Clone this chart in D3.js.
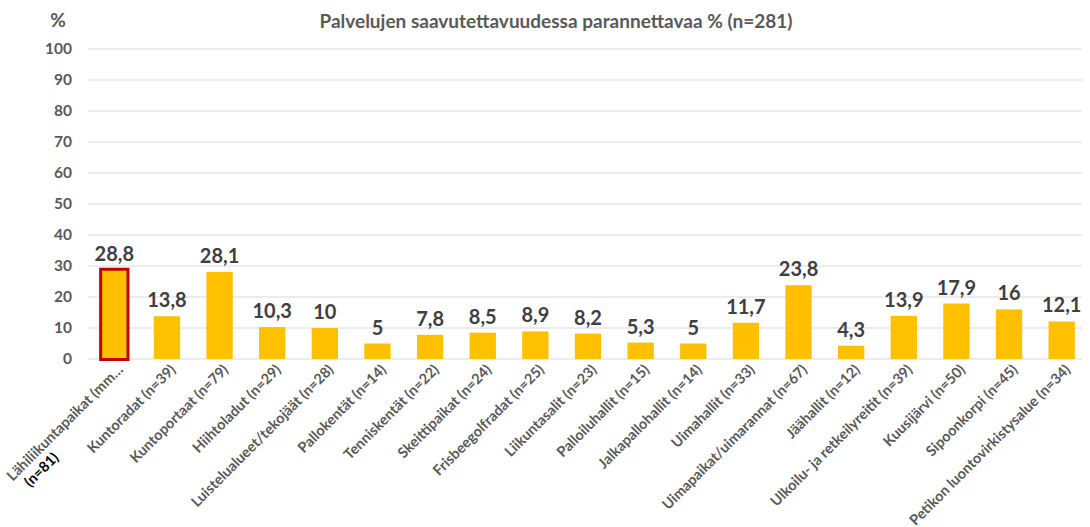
<!DOCTYPE html>
<html lang="en">
<head>
<meta charset="utf-8">
<title>Palvelujen saavutettavuudessa parannettavaa</title>
<script src="https://d3js.org/d3.v7.min.js"></script>
<style>
  body { margin: 0; background: #fff; }
  text { font-family: Lato, "Noto Sans", sans-serif; }
</style>
</head>
<body>
<script>
// data
var categories = ["Lähiliikuntapaikat (mm…", "Kuntoradat (n=39)", "Kuntoportaat (n=79)", "Hiihtoladut (n=29)",
  "Luistelualueet/tekojäät (n=28)", "Pallokentät (n=14)", "Tenniskentät (n=22)", "Skeittipaikat (n=24)",
  "Frisbeegolfradat (n=25)", "Liikuntasalit (n=23)", "Palloiluhallit (n=15)", "Jalkapallohallit (n=14)",
  "Uimahallit (n=33)", "Uimapaikat/uimarannat (n=67)", "Jäähallit (n=12)", "Ulkoilu- ja retkeilyreitit (n=39)",
  "Kuusijärvi (n=50)", "Sipoonkorpi (n=45)", "Petikon luontovirkistysalue (n=34)"];
var values = [28.8, 13.8, 28.1, 10.3, 10, 5, 7.8, 8.5, 8.9, 8.2, 5.3, 5, 11.7, 23.8, 4.3, 13.9, 17.9, 16, 12.1];
var yTicks = [0, 10, 20, 30, 40, 50, 60, 70, 80, 90, 100];
var highlight = "Lähiliikuntapaikat (mm…";
var extraLine = "(n=81)";

var width = 1090, height = 527;
var svg = d3.select("body").append("svg")
  .attr("width", width).attr("height", height);

var x = d3.scaleBand().domain(categories).range([88, 1088]).paddingInner(0.5).paddingOuter(0.25);
var y = d3.scaleLinear().domain([0, 100]).range([359, 49]);

// gridlines
svg.append("g").selectAll("line")
  .data(yTicks).enter().append("line")
  .attr("x1", 88).attr("x2", 1082)
  .attr("y1", function(d) { return y(d); })
  .attr("y2", function(d) { return y(d); })
  .attr("stroke", "#d9d9d9").attr("stroke-width", 1);

// y axis labels
var yAxis = svg.append("g").attr("transform", "translate(76,0)")
  .call(d3.axisLeft(y).tickValues(yTicks).tickSize(0).tickPadding(4));
yAxis.select(".domain").remove();
yAxis.selectAll("text")
  .attr("fill", "#595959").attr("font-size", "15.5px").attr("font-weight", "bold")
  .style("font-family", "Lato, sans-serif");

svg.append("text").attr("x", 58).attr("y", 27).attr("text-anchor", "middle")
  .attr("fill", "#595959").attr("font-size", "19px").attr("font-weight", "bold").text("%");

// title
svg.append("text").attr("x", 556).attr("y", 28).attr("text-anchor", "middle")
  .attr("fill", "#595959").attr("font-size", "19px").attr("font-weight", "bold")
  .text("Palvelujen saavutettavuudessa parannettavaa % (n=281)");

// bars
svg.append("g").selectAll("rect")
  .data(values).enter().append("rect")
  .attr("x", function(d, i) { return x(categories[i]); })
  .attr("y", function(d) { return y(d); })
  .attr("width", x.bandwidth())
  .attr("height", function(d) { return y(0) - y(d); })
  .attr("fill", "#ffc000");

// highlighted outline
var hi = categories.indexOf(highlight);
svg.append("rect")
  .attr("x", x(highlight) - 0.5)
  .attr("y", y(values[hi]) - 0.5)
  .attr("width", x.bandwidth() + 1)
  .attr("height", y(0) - y(values[hi]) + 1)
  .attr("fill", "none").attr("stroke", "#c00000").attr("stroke-width", 3);

// value labels
svg.append("g").selectAll("text")
  .data(values).enter().append("text")
  .attr("x", function(d, i) { return x(categories[i]) + x.bandwidth() / 2; })
  .attr("y", function(d) { return y(d) - 9; })
  .attr("text-anchor", "middle")
  .attr("fill", "#404040").attr("font-size", "20px").attr("font-weight", "bold")
  .text(function(d) { return String(d).replace(".", ","); });

// category labels
var labels = svg.append("g").selectAll("g")
  .data(categories).enter().append("g")
  .attr("transform", function(d) {
    return "translate(" + (x(d) + x.bandwidth() / 2 + 6) + ",367) rotate(-45)";
  });
labels.append("text")
  .attr("text-anchor", "end").attr("dy", "0.35em")
  .attr("fill", "#595959").attr("font-size", "14.5px").attr("font-weight", "bold")
  .text(function(d) { return d; });

labels.filter(function(d) { return d === highlight; }).each(function() {
  var g = d3.select(this);
  var len = g.select("text").node().getComputedTextLength();
  g.append("text")
    .attr("x", -len + 8).attr("dy", "1.5em")
    .attr("fill", "#000").attr("font-size", "14.5px").attr("font-weight", "bold")
    .text(extraLine);
});
</script>
</body>
</html>
